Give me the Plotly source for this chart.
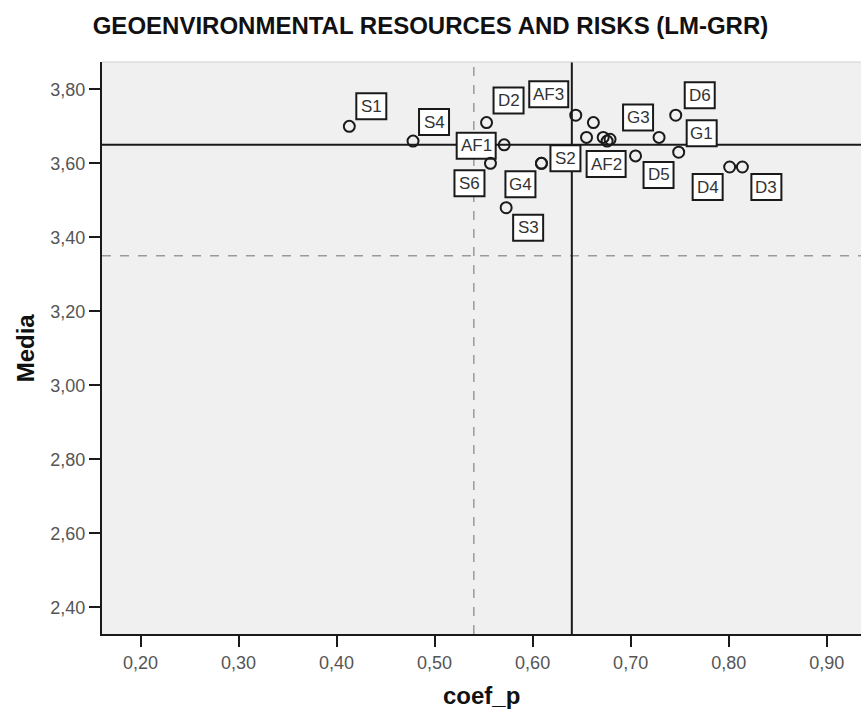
import plotly.graph_objects as go

# ---- data ----
labels = ["S1", "S4", "D2", "AF1", "S6", "S2", "G4", "S3", "AF3",
          "", "", "", "", "AF2", "D5", "G3", "D6", "G1", "D4", "D3"]
coef_p = [0.413, 0.478, 0.553, 0.571, 0.557, 0.609, 0.609, 0.573, 0.644,
          0.662, 0.655, 0.672, 0.679, 0.676, 0.705, 0.729, 0.746, 0.749, 0.801, 0.814]
media = [3.70, 3.66, 3.71, 3.65, 3.60, 3.60, 3.60, 3.48, 3.73,
         3.71, 3.67, 3.67, 3.665, 3.66, 3.62, 3.67, 3.73, 3.63, 3.59, 3.59]

mean_x = 0.64      # solid vertical reference
mean_y = 3.65      # solid horizontal reference
ref_x2 = 0.54      # dashed vertical reference
ref_y2 = 3.35      # dashed horizontal reference

x_ticks = [0.20, 0.30, 0.40, 0.50, 0.60, 0.70, 0.80, 0.90]
y_ticks = [2.40, 2.60, 2.80, 3.00, 3.20, 3.40, 3.60, 3.80]

# label box pixel offsets (style)
label_offsets = {
    "S1": (22, -20), "S4": (21, -19), "D2": (22, -22), "AF1": (-28, 1),
    "S6": (-21, 20), "S2": (24, -5), "G4": (-21, 21), "S3": (22, 20),
    "AF3": (-27, -21), "AF2": (-1, 23), "D5": (23, 19), "G3": (-21, -20),
    "D6": (24, -20), "G1": (23, -19), "D4": (-22, 20), "D3": (24, 20),
}

FONT = "Liberation Sans, Arial, sans-serif"
fig = go.Figure()

# label boxes as pixel-sized shapes anchored at data points
for lab, x, y in zip(labels, coef_p, media):
    if not lab:
        continue
    dx, dy = label_offsets[lab]
    w = 39 if len(lab) == 3 else 30
    h = 26
    fig.add_shape(type="rect", layer="below",
                  xref="x", yref="y", xsizemode="pixel", ysizemode="pixel",
                  xanchor=x, yanchor=y,
                  x0=dx - w / 2, x1=dx + w / 2,
                  y0=-dy - h / 2, y1=-dy + h / 2,
                  fillcolor="white", line=dict(color="#1a1a1a", width=2))

# reference lines
fig.add_shape(type="line", layer="below", xref="x", yref="paper",
              x0=ref_x2, x1=ref_x2, y0=0, y1=1,
              line=dict(color="#9a9a9a", width=1.5, dash="dash"))
fig.add_shape(type="line", layer="below", xref="paper", yref="y",
              x0=0, x1=1, y0=ref_y2, y1=ref_y2,
              line=dict(color="#9a9a9a", width=1.5, dash="dash"))
fig.add_shape(type="line", layer="below", xref="x", yref="paper",
              x0=mean_x, x1=mean_x, y0=0, y1=1,
              line=dict(color="#1a1a1a", width=2))
fig.add_shape(type="line", layer="below", xref="paper", yref="y",
              x0=0, x1=1, y0=mean_y, y1=mean_y,
              line=dict(color="#1a1a1a", width=2))
# light top border
fig.add_shape(type="line", layer="above", xref="paper", yref="paper",
              x0=0, x1=1, y0=1, y1=1, line=dict(color="#d0d0d0", width=1))

fig.add_trace(go.Scatter(
    x=coef_p, y=media, mode="markers",
    marker=dict(symbol="circle", size=11, color="rgba(0,0,0,0)",
                line=dict(color="#1a1a1a", width=2)),
    hoverinfo="skip", showlegend=False))

for lab, x, y in zip(labels, coef_p, media):
    if not lab:
        continue
    dx, dy = label_offsets[lab]
    fig.add_annotation(x=x, y=y, xref="x", yref="y", text=lab,
                       showarrow=False, xshift=dx, yshift=-dy,
                       font=dict(family=FONT, size=17, color="#333333"))

# axis titles
fig.add_annotation(x=0.5, y=-0.107, xref="paper", yref="paper",
                   text="<b>coef_p</b>", showarrow=False,
                   xanchor="center", yanchor="middle",
                   font=dict(family=FONT, size=24, color="#111111"))
fig.add_annotation(x=-0.101, y=0.5, xref="paper", yref="paper",
                   text="<b>Media</b>", showarrow=False, textangle=-90,
                   xanchor="center", yanchor="middle",
                   font=dict(family=FONT, size=24, color="#111111"))

fig.update_layout(
    width=861, height=710,
    margin=dict(l=102, r=0, t=62, b=76, autoexpand=False),
    paper_bgcolor="white", plot_bgcolor="#f0f0f0",
    separators=",.",
    font=dict(family=FONT, size=18, color="#555555"),
    title=dict(text="<b>GEOENVIRONMENTAL RESOURCES AND RISKS (LM-GRR)</b>",
               x=0.5, xanchor="center", xref="container",
               y=1 - 26 / 710, yanchor="middle", yref="container",
               font=dict(family=FONT, size=24, color="#111111")),
    xaxis=dict(range=[0.1607, 0.9350], tickvals=x_ticks, tickformat=".2f",
               showgrid=False, zeroline=False, automargin=False,
               showline=True, linecolor="#1a1a1a", linewidth=2,
               ticks="outside", ticklen=11, tickwidth=2, tickcolor="#1a1a1a",
               tickfont=dict(family=FONT, size=18, color="#555555")),
    yaxis=dict(range=[2.3279, 3.8738], tickvals=y_ticks, tickformat=".2f",
               showgrid=False, zeroline=False, automargin=False,
               showline=True, linecolor="#1a1a1a", linewidth=2,
               ticks="outside", ticklen=11, tickwidth=2, tickcolor="#1a1a1a",
               tickfont=dict(family=FONT, size=18, color="#555555")),
)

fig.write_html("out.html",
               config={"displayModeBar": False},
               post_script="document.body.style.margin='0';"
                           "document.body.style.overflow='hidden';")
